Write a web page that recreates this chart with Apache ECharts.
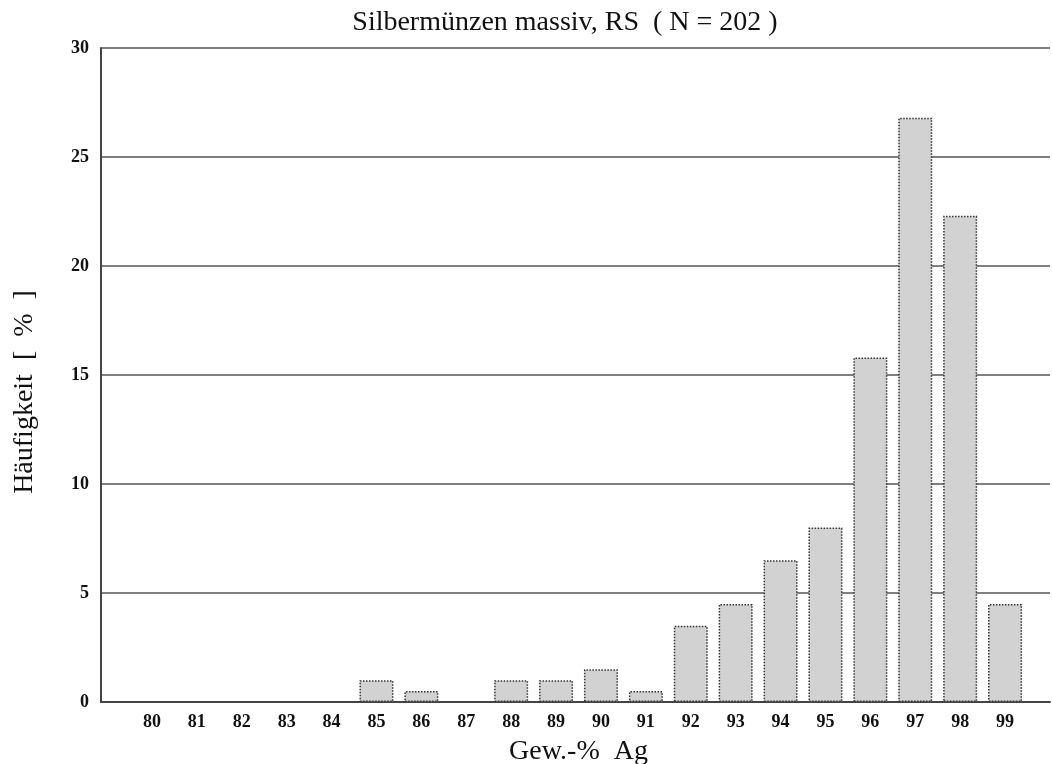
<!DOCTYPE html>
<html>
<head>
<meta charset="utf-8">
<script src="https://cdn.jsdelivr.net/npm/echarts@6/dist/echarts.min.js"></script>
<style>
  html, body { margin: 0; padding: 0; background: #fff; }
  #main { width: 1052px; height: 764px; }
</style>
</head>
<body>
<div id="main"></div>
<script>
"use strict";

// Silbermünzen massiv, RS – Häufigkeitsverteilung
const categories = ['80', '81', '82', '83', '84', '85', '86', '87', '88', '89',
  '90', '91', '92', '93', '94', '95', '96', '97', '98', '99'];
const haeufigkeit = [0, 0, 0, 0, 0, 1.0, 0.5, 0, 1.0, 1.0,
  1.5, 0.5, 3.5, 4.5, 6.5, 8.0, 15.8, 26.8, 22.3, 4.5];
const yTicks = [0, 5, 10, 15, 20, 25, 30];

const serif = '"Liberation Serif", "DejaVu Serif", serif';

let myChart = echarts.init(document.getElementById('main'));

let option = {
  animation: false,
  backgroundColor: '#fff',
  title: {
    text: 'Silbermünzen massiv, RS  ( N = 202 )',
    left: 560,
    textAlign: 'center',
    top: 4,
    textStyle: {
      fontFamily: serif,
      fontSize: 28,
      fontWeight: 'normal',
      color: '#111',
    },
  },
  grid: [
    // frame + gridlines
    { left: 101, right: 2, top: 48, bottom: 62, outerBoundsMode: 'none' },
    // bars
    { left: 129.5, width: 898, top: 48, bottom: 62, outerBoundsMode: 'none' },
  ],
  xAxis: [
    {
      gridIndex: 0,
      type: 'value',
      min: 0,
      max: 1,
      axisLine: { show: true, lineStyle: { color: '#444', width: 2 } },
      axisTick: { show: false },
      axisLabel: { show: false },
      splitLine: { show: false },
    },
    {
      gridIndex: 1,
      type: 'category',
      data: categories,
      axisLine: { show: false },
      axisTick: { show: false },
      axisLabel: {
        margin: 11,
        fontFamily: serif,
        fontSize: 18,
        fontWeight: 'bold',
        color: '#111',
      },
      name: 'Gew.-%  Ag',
      nameLocation: 'middle',
      nameGap: 36,
      nameTextStyle: {
        fontFamily: serif,
        fontSize: 28,
        color: '#111',
      },
    },
  ],
  yAxis: [
    {
      gridIndex: 0,
      type: 'value',
      min: yTicks[0],
      max: yTicks[yTicks.length - 1],
      interval: 5,
      axisLine: { show: true, lineStyle: { color: '#444', width: 2 } },
      axisTick: { show: false },
      axisLabel: {
        margin: 12,
        fontFamily: serif,
        fontSize: 18,
        fontWeight: 'bold',
        color: '#111',
      },
      splitLine: { show: true, lineStyle: { color: '#555', width: 1.5 } },
      name: 'Häufigkeit  [  %  ]',
      nameLocation: 'middle',
      nameGap: 62,
      nameTextStyle: {
        fontFamily: serif,
        fontSize: 28,
        color: '#111',
        padding: [0, 34, 0, 0],
      },
    },
    {
      gridIndex: 1,
      type: 'value',
      min: 0,
      max: 30,
      show: false,
    },
  ],
  series: [
    {
      name: 'Häufigkeit',
      type: 'bar',
      xAxisIndex: 1,
      yAxisIndex: 1,
      // empty classes get no bar at all
      data: haeufigkeit.map(v => (v === 0 ? '-' : v)),
      barWidth: 34,
      itemStyle: {
        color: '#d2d2d2',
        borderColor: '#333',
        borderWidth: 1.5,
        borderType: 'dotted',
      },
    },
  ],
};

myChart.setOption(option);
</script>
</body>
</html>
